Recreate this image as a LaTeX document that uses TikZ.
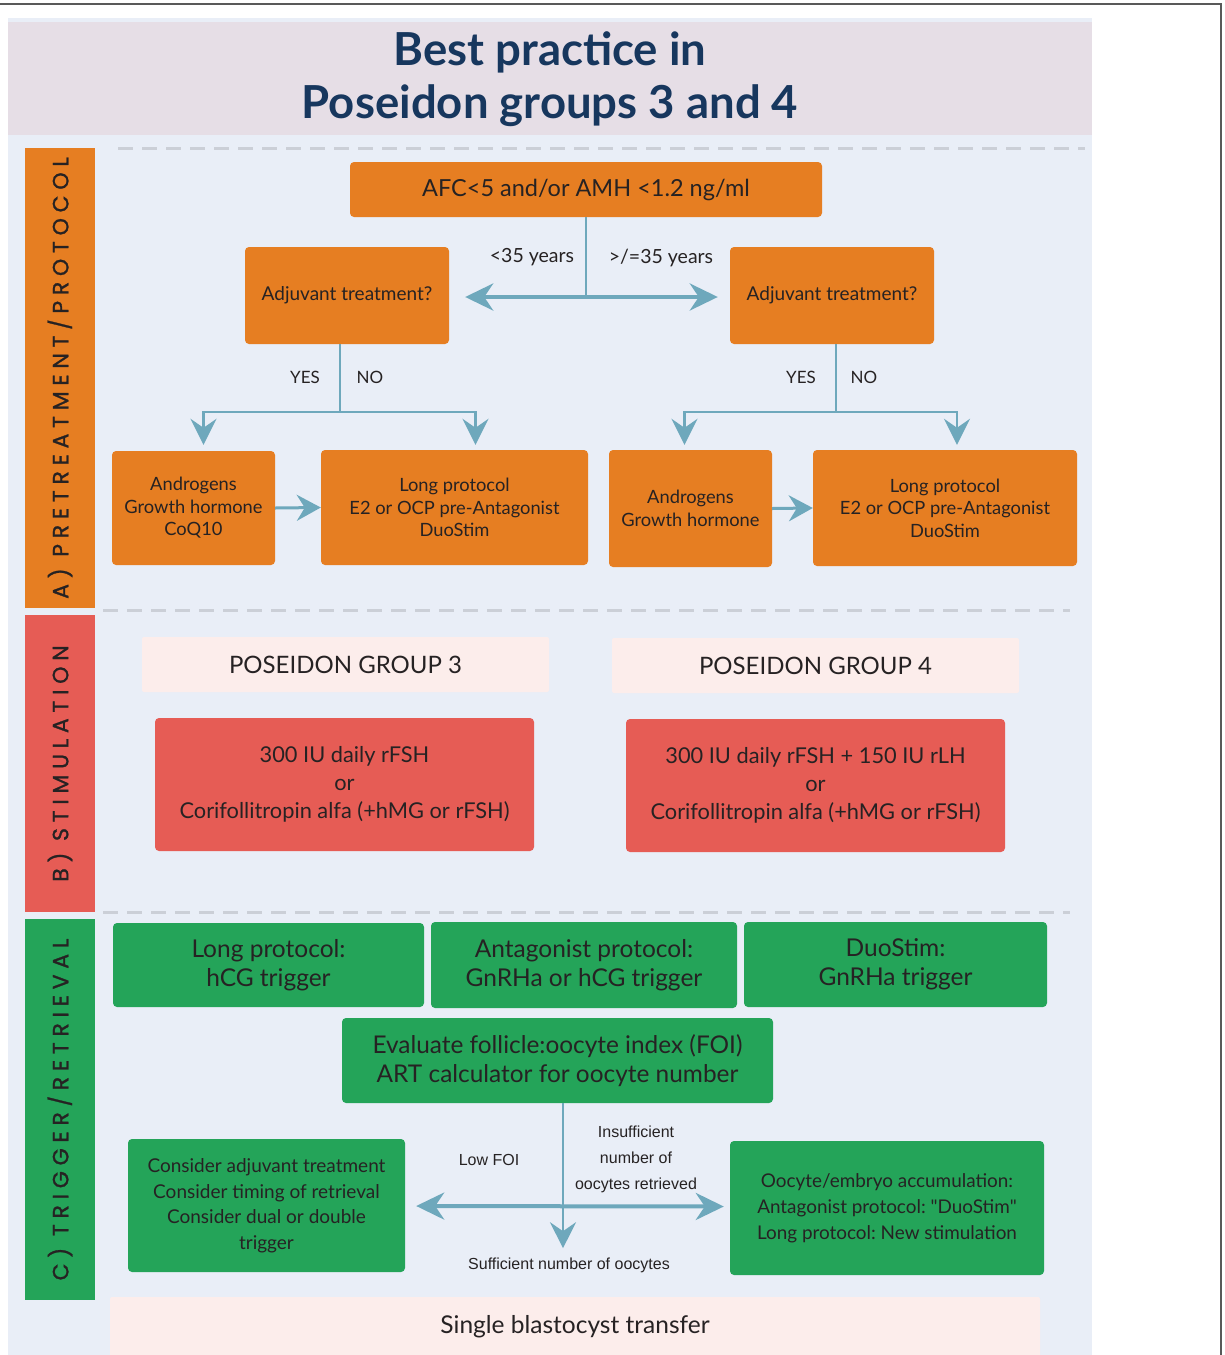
\documentclass[tikz,border=0pt]{standalone}
\usepackage{fontspec}
\setmainfont{Lato}
\newfontfamily\sidefont[LetterSpace=26,FakeBold=1.2]{Poppins}
\newfontfamily\armfont{Liberation Sans}
\usetikzlibrary{arrows.meta}
\usetikzlibrary{calc}
\frenchspacing

\definecolor{panelbg}{HTML}{E9EEF7}
\definecolor{titlebg}{HTML}{E6DEE6}
\definecolor{titleink}{HTML}{17375E}
\definecolor{ink}{HTML}{262223}
\definecolor{poOrange}{HTML}{E67E22}
\definecolor{poRed}{HTML}{E65C55}
\definecolor{poGreen}{HTML}{24A459}
\definecolor{poPink}{HTML}{FCEDEB}
\definecolor{poArrow}{HTML}{6EA8BC}
\definecolor{poDash}{HTML}{CBCFD7}

\tikzset{
    box/.style={rounded corners=4pt, inner sep=0pt, align=center, text=ink},
    orangebox/.style={box, fill=poOrange},
    redbox/.style={box, fill=poRed},
    greenbox/.style={box, fill=poGreen},
    pinkbox/.style={box, fill=poPink, rounded corners=2pt},
    sidebar/.style={inner sep=0pt, minimum width=70pt},
    sidelabel/.style={rotate=90, text=ink, font=\sidefont\fontsize{22}{24}\selectfont},
    sep/.style={draw=poDash, line width=3pt, dash pattern=on 15pt off 9pt},
    conn/.style={draw=poArrow, line width=2.5pt},
    tip/.style={conn, -{Stealth[length=26pt,width=26pt,inset=9pt]}},
    twotip/.style={draw=poArrow, line width=4pt, {Stealth[length=28pt,width=27pt,inset=9pt]}-{Stealth[length=28pt,width=27pt,inset=9pt]}},
    armlabel/.style={text=ink, align=center, font=\armfont\fontsize{16}{26}\selectfont},
    yesno/.style={text=ink, font=\fontsize{17}{19}\selectfont}
}

\begin{document}
\begin{tikzpicture}[x=1pt,y=-1pt]
                    \useasboundingbox (0,0) rectangle (1224,1355);
                    \fill[panelbg] (8,18) rectangle (1092,1355);
                    \fill[titlebg] (8,22) rectangle (1092,135);
                    \draw[gray!70!black, line width=1.5pt] (0,4) -- (1221,4) -- (1221,1355);
                    \draw (550,79) node[name=title, text=titleink, align=center, font=\bfseries\fontsize{45.5}{53}\selectfont] {Best practice in\\Poseidon groups 3 and 4};
                    \draw[sep] (118,148) -- (1085,148);
                    \draw[sep] (103,610) -- (1070,610);
                    \draw[sep] (103,912) -- (1070,912);
                    \draw (60,378) node[sidebar, fill=poOrange, minimum height=460pt, name=barA] {};
                    \draw (60,763.5) node[sidebar, fill=poRed, minimum height=297pt, name=barB] {};
                    \draw (60,1109.5) node[sidebar, fill=poGreen, minimum height=381pt, name=barC] {};
                    \draw (barA) node[sidelabel] {A) PRETREATMENT/PROTOCOL};
                    \draw (barB) node[sidelabel] {B) STIMULATION};
                    \draw (barC) node[sidelabel] {C) TRIGGER/RETRIEVAL};
                    \draw (586,189.5) node[orangebox, minimum width=472pt, minimum height=55pt, name=afc, font=\fontsize{23.5}{26}\selectfont] {AFC<5 and/or AMH <1.2 ng/ml};
                    \draw (347,295.5) node[orangebox, minimum width=204pt, minimum height=97pt, name=adjL, font=\fontsize{19}{22}\selectfont] {\raisebox{-3pt}{Adjuvant treatment?}};
                    \draw (832,295.5) node[orangebox, minimum width=204pt, minimum height=97pt, name=adjR, font=\fontsize{19}{22}\selectfont] {\raisebox{-3pt}{Adjuvant treatment?}};
                    \draw (193.5,508) node[orangebox, minimum width=163pt, minimum height=114pt, name=andL, font=\fontsize{18.3}{22.5}\selectfont] {Androgens\\Growth hormone\\CoQ10};
                    \draw (454.5,507.5) node[orangebox, minimum width=267pt, minimum height=115pt, name=longL, font=\fontsize{18.3}{22.5}\selectfont] {Long protocol\\E2 or OCP pre-Antagonist\\DuoStim};
                    \draw (690.5,508.5) node[orangebox, minimum width=163pt, minimum height=117pt, name=andR, font=\fontsize{18.3}{22.5}\selectfont] {Androgens\\Growth hormone};
                    \draw (945,508) node[orangebox, minimum width=264pt, minimum height=116pt, name=longR, font=\fontsize{18.3}{22.5}\selectfont] {Long protocol\\E2 or OCP pre-Antagonist\\DuoStim};
                    \draw[conn] (afc.south) -- (afc.south |- adjL.east) coordinate (ageSplit);
                    \draw[twotip] ($(adjL.east)+(16,1.5)$) -- ($(adjR.west)+(-12,1.5)$);
                    \draw (532,257) node[yesno, name=under35, font=\fontsize{19.5}{21}\selectfont] {<35 years};
                    \draw (661,258) node[yesno, name=over35, font=\fontsize{19.5}{21}\selectfont] {>/=35 years};
                    \draw[conn] ($(adjL.south)+(-7,0)$) -- ++(0,68) coordinate (splitL);
                    \draw[tip, shorten >=6pt] (splitL) -| ($(andL.north)+(10,0)$);
                    \draw[tip, shorten >=5pt] (splitL) -| ($(longL.north)+(21,0)$);
                    \draw[conn] ($(adjR.south)+(4,0)$) -- ++(0,68) coordinate (splitR);
                    \draw[tip, shorten >=5pt] (splitR) -| ($(andR.north)+(-6,0)$);
                    \draw[tip, shorten >=5pt] (splitR) -| ($(longR.north)+(12,0)$);
                    \draw (305,377) node[yesno, name=yesL] {YES};
                    \draw (370,377) node[yesno, name=noL] {NO};
                    \draw (801,377) node[yesno, name=yesR] {YES};
                    \draw (864,377) node[yesno, name=noR] {NO};
                    \draw[tip, line width=3pt, -{Stealth[length=24pt,width=26pt,inset=8pt]}] (andL.east) -- (longL.west);
                    \draw[tip, line width=3pt, -{Stealth[length=24pt,width=26pt,inset=8pt]}] (andR.east) -- (longR.west);
                    \draw (345.5,664.5) node[pinkbox, minimum width=407pt, minimum height=55pt, name=grp3, font=\fontsize{24}{26}\selectfont] {POSEIDON GROUP 3};
                    \draw (815.5,665.5) node[pinkbox, minimum width=407pt, minimum height=55pt, name=grp4, font=\fontsize{24}{26}\selectfont] {POSEIDON GROUP 4};
                    \draw (344.5,784.5) node[redbox, minimum width=379pt, minimum height=133pt, name=stim3, font=\fontsize{21.8}{28}\selectfont] {300 IU daily rFSH\\or\\Corifollitropin alfa (+hMG or rFSH)};
                    \draw (815.5,785.5) node[redbox, minimum width=379pt, minimum height=133pt, name=stim4, font=\fontsize{21.8}{28}\selectfont] {300 IU daily rFSH + 150 IU rLH\\or\\Corifollitropin alfa (+hMG or rFSH)};
                    \draw (268.5,965) node[greenbox, minimum width=311pt, minimum height=84pt, name=trigLong, font=\fontsize{24.5}{29}\selectfont] {Long protocol:\\hCG trigger};
                    \draw (584,965) node[greenbox, minimum width=306pt, minimum height=86pt, name=trigAnt, font=\fontsize{24.5}{29}\selectfont] {Antagonist protocol:\\GnRHa or hCG trigger};
                    \draw (895.5,964.5) node[greenbox, minimum width=303pt, minimum height=85pt, name=trigDuo, font=\fontsize{24.5}{29}\selectfont] {DuoStim:\\GnRHa trigger};
                    \draw (557.5,1060.5) node[greenbox, minimum width=431pt, minimum height=85pt, name=foi, font=\fontsize{24.4}{29}\selectfont] {Evaluate follicle:oocyte index (FOI)\\ART calculator for oocyte number};
                    \draw (266.5,1205.5) node[greenbox, minimum width=277pt, minimum height=133pt, name=lowfoi, font=\fontsize{19}{25.5}\selectfont] {Consider adjuvant treatment\\Consider timing of retrieval\\Consider dual or double\\trigger};
                    \draw (887,1208) node[greenbox, minimum width=314pt, minimum height=134pt, name=accum, font=\fontsize{18.9}{26}\selectfont] {Oocyte/embryo accumulation:\\Antagonist protocol: \textquotedbl DuoStim\textquotedbl\\Long protocol: New stimulation};
                    \draw[twotip] ($(lowfoi.east)+(11,0.5)$) -- ($(accum.west)+(-6,-1.5)$);
                    \draw[tip, line width=2.2pt] ($(foi.south)+(5.5,0)$) -- ++(0,145) coordinate (suff);
                    \draw (489,1160) node[armlabel, name=lowlbl] {Low FOI};
                    \draw (636,1159) node[armlabel, name=insufflbl] {Insufficient\\number of\\oocytes retrieved};
                    \draw (569,1265) node[armlabel, name=sufflbl] {Sufficient number of oocytes};
                    \draw (575,1327) node[pinkbox, minimum width=930pt, minimum height=60pt, name=single, font=\fontsize{24.5}{26}\selectfont] {Single blastocyst transfer};
                \end{tikzpicture}
\end{document}
